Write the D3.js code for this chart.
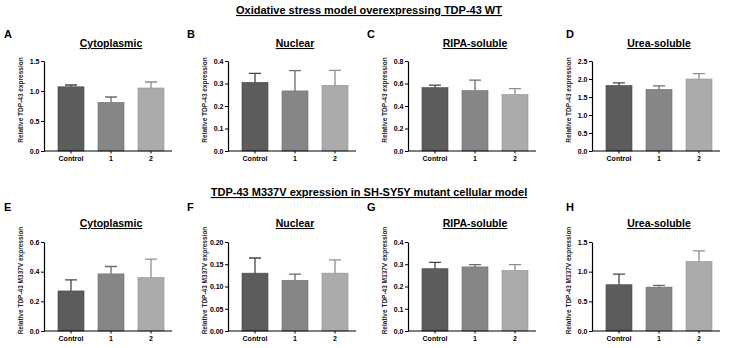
<!DOCTYPE html>
<html>
<head>
<meta charset="utf-8">
<script src="https://cdn.jsdelivr.net/npm/d3@7"></script>
<style>
  body { margin: 0; background: #fff; }
  svg { display: block; font-family: "Liberation Sans", Arial, sans-serif; }
</style>
</head>
<body>
<div id="chart"></div>
<script>
// Nhóm / categories
const categories = ["Control", "1", "2"];
const panelTitles = ["Cytoplasmic", "Nuclear", "RIPA-soluble", "Urea-soluble"];
const rowTitles = ["Oxidative stress model overexpressing TDP-43 WT",
                   "TDP-43 M337V expression in SH-SY5Y mutant cellular model"];
const yLabels = ["Relative TDP-43 expression", "Relative TDP-43 M337V expression"];
const letters = [["A", "B", "C", "D"], ["E", "F", "G", "H"]];

// Hàng 1: TDP-43 WT (mean + SEM)
const wtCytoMean = [1.07, 0.81, 1.05];
const wtCytoErr  = [0.03, 0.09, 0.10];
const wtNucMean  = [0.305, 0.267, 0.292];
const wtNucErr   = [0.040, 0.090, 0.066];
const wtRipaMean = [0.563, 0.537, 0.502];
const wtRipaErr  = [0.022, 0.093, 0.053];
const wtUreaMean = [1.82, 1.71, 2.00];
const wtUreaErr  = [0.07, 0.10, 0.15];

// Hàng 2: TDP-43 M337V
const mutCytoMean = [0.27, 0.385, 0.36];
const mutCytoErr  = [0.075, 0.050, 0.125];
const mutNucMean  = [0.130, 0.114, 0.130];
const mutNucErr   = [0.034, 0.014, 0.030];
const mutRipaMean = [0.280, 0.288, 0.272];
const mutRipaErr  = [0.028, 0.010, 0.026];
const mutUreaMean = [0.78, 0.74, 1.17];
const mutUreaErr  = [0.18, 0.03, 0.18];

// Nhãn trục Y
const wtCytoTicks  = ["0.0", "0.5", "1.0", "1.5"];
const wtNucTicks   = ["0.0", "0.1", "0.2", "0.3", "0.4"];
const wtRipaTicks  = ["0.0", "0.2", "0.4", "0.6", "0.8"];
const wtUreaTicks  = ["0.0", "0.5", "1.0", "1.5", "2.0", "2.5"];
const mutCytoTicks = ["0.0", "0.2", "0.4", "0.6"];
const mutNucTicks  = ["0.00", "0.05", "0.10", "0.15", "0.20"];
const mutRipaTicks = ["0.0", "0.1", "0.2", "0.3", "0.4"];
const mutUreaTicks = ["0.0", "0.5", "1.0", "1.5"];

const rows = [
  [[wtCytoMean, wtCytoErr, wtCytoTicks], [wtNucMean, wtNucErr, wtNucTicks],
   [wtRipaMean, wtRipaErr, wtRipaTicks], [wtUreaMean, wtUreaErr, wtUreaTicks]],
  [[mutCytoMean, mutCytoErr, mutCytoTicks], [mutNucMean, mutNucErr, mutNucTicks],
   [mutRipaMean, mutRipaErr, mutRipaTicks], [mutUreaMean, mutUreaErr, mutUreaTicks]]
];

// Bố cục
const W = 734, H = 348;
const axisX = [44, 228, 408, 592];
const letterX = [4, 187, 367, 566];
const rowLayout = [
  { title: 14, letter: 38, sub: 47, top: 61, base: 151 },
  { title: 196, letter: 211, sub: 227, top: 242, base: 331 }
];
const barFill = ["#5c5c5c", "#868686", "#ababab"];
const barLine = ["#454545", "#6c6c6c", "#8f8f8f"];

const svg = d3.select("#chart").append("svg")
  .attr("width", W).attr("height", H);
svg.append("rect").attr("width", W).attr("height", H).attr("fill", "#fff");

rows.forEach((row, r) => {
  const L = rowLayout[r];

  svg.append("text")
    .attr("x", 369).attr("y", L.title)
    .attr("text-anchor", "middle")
    .style("font-size", "11px").style("font-weight", "bold")
    .style("text-decoration", "underline")
    .text(rowTitles[r]);

  row.forEach(([means, errs, ticks], c) => {
    const ox = axisX[c];
    const data = categories.map((k, i) => ({ k, v: means[i], e: errs[i], i }));

    svg.append("text")
      .attr("x", letterX[c]).attr("y", L.letter)
      .style("font-size", "11px").style("font-weight", "bold")
      .text(letters[r][c]);

    svg.append("text")
      .attr("x", ox + 67).attr("y", L.sub)
      .attr("text-anchor", "middle")
      .style("font-size", "10.5px").style("font-weight", "bold")
      .style("text-decoration", "underline")
      .text(panelTitles[c]);

    const g = svg.append("g").attr("transform", `translate(${ox},0)`);

    const x = d3.scaleBand().domain(categories).range([0, 134]).padding(0.35);
    const y = d3.scaleLinear().domain([0, +ticks[ticks.length - 1]]).range([L.base, L.top]);

    // Cột
    g.selectAll(".bar").data(data).enter().append("rect")
      .attr("x", d => x(d.k))
      .attr("y", d => y(d.v))
      .attr("width", x.bandwidth())
      .attr("height", d => y(0) - y(d.v))
      .attr("fill", d => barFill[d.i])
      .attr("stroke", d => barLine[d.i])
      .attr("stroke-width", 0.6);

    // Error bars (chỉ phía trên)
    g.selectAll(".err").data(data).enter().append("path")
      .attr("d", d => {
        const cx = x(d.k) + x.bandwidth() / 2;
        return `M${cx},${y(d.v)}V${y(d.v + d.e)}M${cx - 6},${y(d.v + d.e)}H${cx + 6}`;
      })
      .attr("fill", "none")
      .attr("stroke", d => barLine[d.i])
      .attr("stroke-width", 1.3);

    // Trục Y
    const ya = g.append("g")
      .call(d3.axisLeft(y).tickValues(ticks.map(Number))
        .tickFormat((d, i) => ticks[i]).tickSize(3).tickSizeOuter(0).tickPadding(1.5));
    ya.select(".domain").attr("stroke-width", 1.2);
    ya.selectAll("line").attr("stroke-width", 1);
    ya.selectAll("text").style("font-size", "7px").style("font-weight", "bold");

    // Trục X
    const xa = g.append("g").attr("transform", `translate(0,${L.base})`)
      .call(d3.axisBottom(x).tickSize(2.5).tickSizeOuter(0).tickPadding(2.5));
    xa.select(".domain").remove();
    xa.selectAll("text").style("font-size", "7px").style("font-weight", "bold");
    g.append("line")
      .attr("x1", 0).attr("x2", 128)
      .attr("y1", L.base).attr("y2", L.base)
      .attr("stroke", "#000").attr("stroke-width", 1.2);

    // Nhãn trục Y
    svg.append("text")
      .attr("transform", `translate(${ox - 21},${(L.top + L.base) / 2 - 6}) rotate(-90)`)
      .attr("text-anchor", "middle")
      .style("font-size", "6.5px").style("font-weight", "bold")
      .style("fill", "#222")
      .text(yLabels[r]);
  });
});
</script>
</body>
</html>
